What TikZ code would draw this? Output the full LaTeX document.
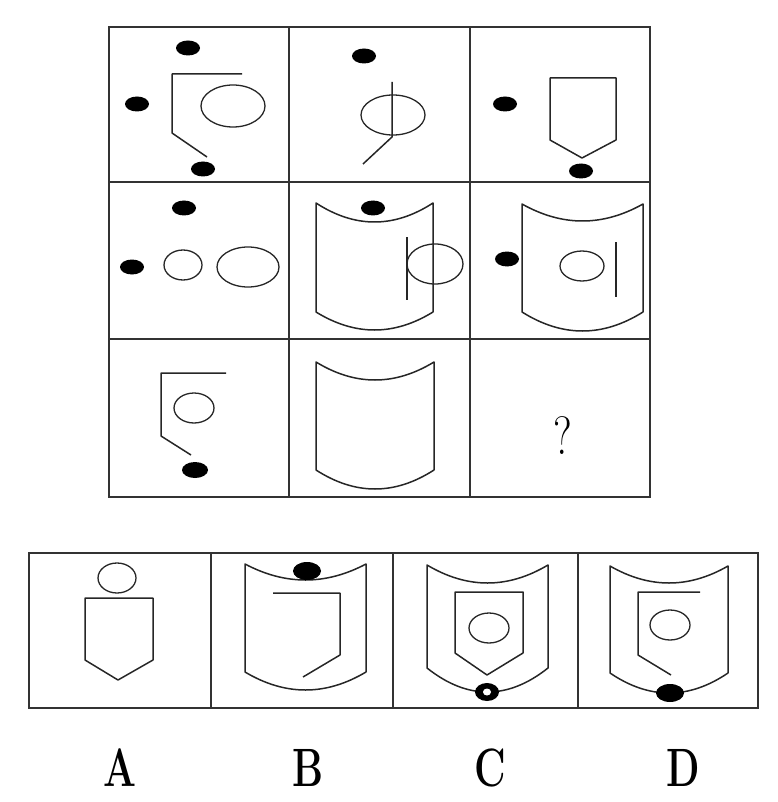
\documentclass[tikz,border=0pt]{standalone}
\newcommand{\myshield}[6]{%
 \draw[fig] ({#1},{#3}) .. controls ({#1+(#2-#1)/3},{#3+4/3*(#4-#3)}) and ({#2-(#2-#1)/3},{#3+4/3*(#4-#3)}) .. ({#2},{#3})
   -- ({#2},{#5}) .. controls ({#2-(#2-#1)/3},{#5+4/3*(#6-#5)}) and ({#1+(#2-#1)/3},{#5+4/3*(#6-#5)}) .. ({#1},{#5}) -- cycle;}
\begin{document}
\begin{tikzpicture}[x=1pt,y=-1pt,
  fig/.style={line width=1.5pt, draw=black!85, line join=round},
  oval/.style={line width=1.3pt, draw=black!85},
  frame/.style={line width=1.8pt, draw=black!80},
  blob/.style={fill=black},
  lab/.style={font=\rmfamily\bfseries\fontsize{54}{54}\selectfont, xscale=0.72, inner sep=0pt},
  qlab/.style={font=\rmfamily\fontsize{54}{54}\selectfont, xscale=0.8, inner sep=0pt}]
\useasboundingbox (0,0) rectangle (777,802);
% grid
\draw[frame] (109,27) rectangle (650,497);
\draw[frame] (289,27) -- (289,497) (470,27) -- (470,497) (109,182) -- (650,182) (109,339) -- (650,339);
% cell 1
\fill[blob] (188,48) ellipse [x radius=12pt, y radius=7.5pt];
\fill[blob] (137,104) ellipse [x radius=12pt, y radius=7.5pt];
\fill[blob] (203,169) ellipse [x radius=12pt, y radius=7.5pt];
\draw[fig] (242,74) -- (172,74) -- (172,133) -- (207,157);
\draw[oval] (233,106) ellipse [x radius=32pt, y radius=21pt];
% cell 2
\fill[blob] (364,56) ellipse [x radius=12pt, y radius=7.5pt];
\draw[oval] (393,115) ellipse [x radius=32pt, y radius=20pt];
\draw[fig] (392,82) -- (392,137) -- (363,164);
% cell 3
\fill[blob] (505,104) ellipse [x radius=12pt, y radius=7.5pt];
\draw[fig] (550,78) -- (616,78) -- (616,140) -- (582,158) -- (550,140) -- cycle;
\fill[blob] (581,171) ellipse [x radius=12pt, y radius=7.5pt];
% cell 4
\fill[blob] (184,208) ellipse [x radius=12pt, y radius=7.5pt];
\fill[blob] (132,267) ellipse [x radius=12pt, y radius=7.5pt];
\draw[oval] (183,265) ellipse [x radius=19pt, y radius=15pt];
\draw[oval] (248,267) ellipse [x radius=31pt, y radius=20pt];
% cell 5
\myshield{316}{433}{203}{222}{312}{330}
\fill[blob] (373,208) ellipse [x radius=12pt, y radius=7.5pt];
\draw[oval] (435,264) ellipse [x radius=28pt, y radius=20pt];
\draw[fig] (407,237) -- (407,300);
% cell 6
\myshield{522}{643}{204}{221}{312}{331}
\fill[blob] (507,259) ellipse [x radius=12pt, y radius=7.5pt];
\draw[oval] (582,266) ellipse [x radius=22pt, y radius=15pt];
\draw[fig] (616,242) -- (616,297);
% cell 7
\draw[fig] (226,373) -- (161,373) -- (161,436) -- (191,455);
\draw[oval] (194,408) ellipse [x radius=20pt, y radius=15pt];
\fill[blob] (195,470) ellipse [x radius=13pt, y radius=8pt];
% cell 8
\myshield{316}{434}{362}{380}{470}{489}
% cell 9
\node[qlab] (q) at (563,436) {?};
% options
\draw[frame] (29,553) rectangle (758,708);
\draw[frame] (211,553) -- (211,708) (393,553) -- (393,708) (578,553) -- (578,708);
% A
\draw[oval] (117,578) ellipse [x radius=19pt, y radius=15pt];
\draw[fig] (85,598) -- (153,598) -- (153,660) -- (118,680) -- (85,660) -- cycle;
% B
\myshield{245}{366}{564}{580}{672}{690}
\fill[blob] (307,571) ellipse [x radius=14pt, y radius=9pt];
\draw[fig] (273,593) -- (340,593) -- (340,655) -- (303,677);
% C
\myshield{427}{548}{565}{583}{668}{692}
\draw[fig] (455,592) -- (523,592) -- (523,653) -- (487,675) -- (455,653) -- cycle;
\draw[oval] (489,628) ellipse [x radius=20pt, y radius=15pt];
\fill[blob] (487,692) ellipse [x radius=12pt, y radius=9pt];
\fill[white] (487,692) ellipse [x radius=4pt, y radius=3.5pt];
% D
\myshield{610}{728}{566}{583}{673}{693}
\draw[fig] (700,592) -- (638,592) -- (638,655) -- (671,675);
\draw[oval] (670,625) ellipse [x radius=20pt, y radius=15pt];
\fill[blob] (670,693) ellipse [x radius=14pt, y radius=9pt];
% labels
\node[lab] (lA) at (120,768) {A};
\node[lab] (lB) at (308,768) {B};
\node[lab] (lC) at (490,768) {C};
\node[lab] (lD) at (683,768) {D};
\end{tikzpicture}
\end{document}
